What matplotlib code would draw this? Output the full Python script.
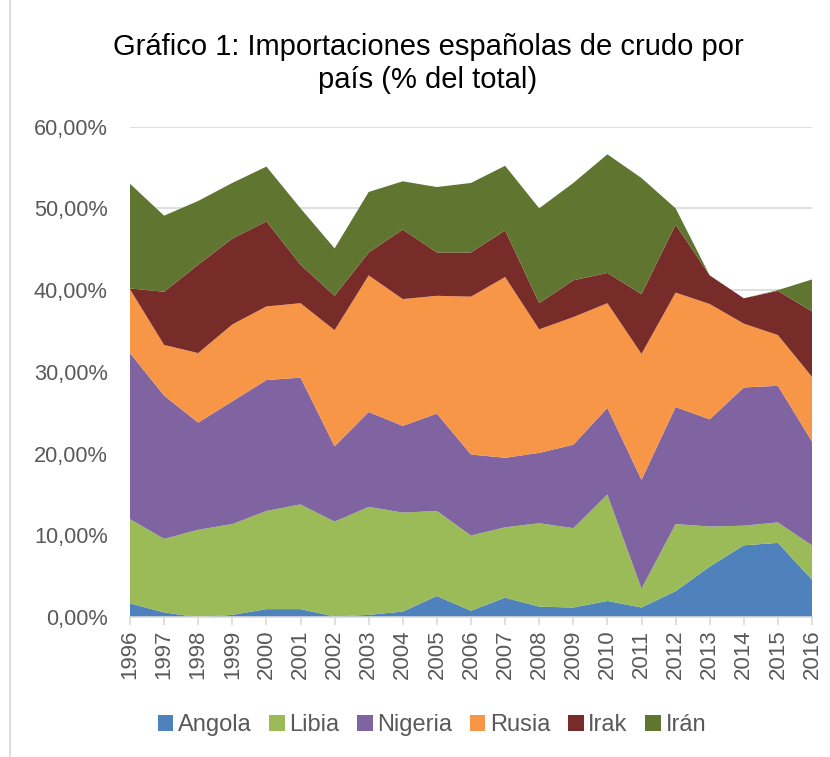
import matplotlib
matplotlib.use("Agg")
import matplotlib.pyplot as plt
from matplotlib.lines import Line2D
from matplotlib.patches import Patch

plt.rcParams['font.family'] = ['Liberation Sans', 'DejaVu Sans']

years = list(range(1996, 2017))
series_names = ["Angola", "Libia", "Nigeria", "Rusia", "Irak", "Irán"]
angola  = [1.7, 0.6, 0.0, 0.3, 1.0, 1.0, 0.1, 0.3, 0.7, 2.6, 0.8, 2.4, 1.3, 1.2, 2.0, 1.2, 3.2, 6.2, 8.8, 9.1, 4.6]
libia   = [10.3, 9.0, 10.7, 11.1, 12.0, 12.8, 11.6, 13.2, 12.1, 10.4, 9.2, 8.6, 10.2, 9.7, 13.0, 2.3, 8.2, 4.9, 2.4, 2.5, 4.2]
nigeria = [20.3, 17.5, 13.1, 15.0, 16.0, 15.5, 9.2, 11.6, 10.6, 11.9, 9.9, 8.5, 8.6, 10.2, 10.6, 13.3, 14.3, 13.1, 16.9, 16.7, 12.7]
rusia   = [7.8, 6.2, 8.5, 9.4, 9.0, 9.1, 14.2, 16.7, 15.5, 14.4, 19.3, 22.1, 15.1, 15.6, 12.8, 15.4, 14.0, 14.1, 7.8, 6.2, 7.9]
irak    = [0.1, 6.5, 10.8, 10.5, 10.4, 4.7, 4.2, 2.8, 8.5, 5.3, 5.4, 5.7, 3.2, 4.5, 3.7, 7.3, 8.3, 3.5, 3.1, 5.4, 8.0]
iran    = [12.8, 9.3, 7.8, 6.8, 6.7, 6.9, 5.8, 7.4, 5.9, 8.0, 8.5, 7.9, 11.6, 11.9, 14.5, 14.2, 2.0, 0.0, 0.0, 0.1, 3.9]
ytick_vals = [0, 10, 20, 30, 40, 50, 60]
ytick_labels = ["0,00%", "10,00%", "20,00%", "30,00%", "40,00%", "50,00%", "60,00%"]

colors = ["#4F81BD", "#9BBB59", "#8064A2", "#F79646", "#772C2A", "#5F7530"]
W, H = 830, 757
fig = plt.figure(figsize=(W/100, H/100), dpi=100)
ax = fig.add_axes([130/W, 1-617.3/H, (812-130)/W, (617.3-126.5)/H])

ax.stackplot(years, angola, libia, nigeria, rusia, irak, iran, colors=colors,
             edgecolor='none', linewidth=0, zorder=2)
ax.set_xlim(1996, 2016)
ax.set_ylim(0, 60)
ax.set_yticks(ytick_vals)
ax.set_yticklabels(ytick_labels)
ax.set_xticks(years)
ax.set_xticklabels([str(y) for y in years], rotation=90)
ax.grid(axis='y', color='#D9D9D9', linewidth=1.2, zorder=0)
ax.set_axisbelow(True)
for s in ['top', 'right', 'left']:
    ax.spines[s].set_visible(False)
ax.spines['bottom'].set_color('#D9D9D9')
ax.spines['bottom'].set_linewidth(1.2)
ax.spines['bottom'].set_zorder(3)
ax.tick_params(axis='y', length=0, pad=16, labelsize=15.7, labelcolor='#595959')
ax.tick_params(axis='x', length=6, width=1.2, color='#D9D9D9', pad=3, labelsize=16, labelcolor='#595959')

fig.text(428/W, 1-47/H, "Gráfico 1: Importaciones españolas de crudo por", ha='center', va='center', fontsize=21, color='#000000')
fig.text(428/W, 1-80/H, "país (% del total)", ha='center', va='center', fontsize=21, color='#000000')

handles = [Patch(facecolor=c, edgecolor='none') for c in colors]
fig.legend(handles, series_names, loc='center', bbox_to_anchor=(432/W, 1-725/H), ncol=6,
           frameon=False, fontsize=17, labelcolor='#595959', handlelength=0.65, handleheight=0.65,
           handletextpad=0.2, columnspacing=0.75)

fig.add_artist(Line2D([10/W, 10/W], [0, 1], color='#D9D9D9', lw=1.2, transform=fig.transFigure))

fig.savefig("out.png", dpi=100)
